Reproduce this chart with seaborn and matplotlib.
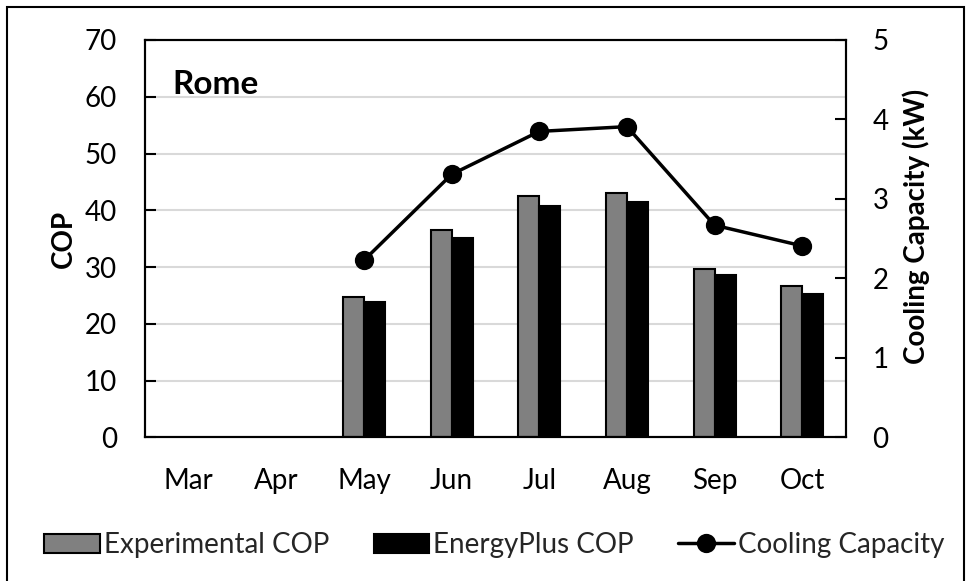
import pandas as pd
import seaborn as sns
import matplotlib.pyplot as plt
from matplotlib.patches import Rectangle


MONTHS = ["Mar", "Apr", "May", "Jun", "Jul", "Aug", "Sep", "Oct"]
DATA_MONTHS = ["May", "Jun", "Jul", "Aug", "Sep", "Oct"]
EXPERIMENTAL_COP = [24.7, 36.5, 42.5, 43.1, 29.6, 26.7]
ENERGYPLUS_COP = [23.9, 35.2, 40.8, 41.5, 28.6, 25.3]
COOLING_CAPACITY = [2.23, 3.31, 3.85, 3.91, 2.67, 2.41]
COP_TICKS = [0, 10, 20, 30, 40, 50, 60, 70]
KW_TICKS = [0, 1, 2, 3, 4, 5]


def build_frames():
    bars = pd.DataFrame({
        "month": DATA_MONTHS * 2,
        "COP": EXPERIMENTAL_COP + ENERGYPLUS_COP,
        "series": ["Experimental COP"] * len(DATA_MONTHS) + ["EnergyPlus COP"] * len(DATA_MONTHS),
    })
    line = pd.DataFrame({"month": DATA_MONTHS, "capacity": COOLING_CAPACITY})
    return bars, line


def main():
    sns.set_theme(style="white")
    plt.rcParams["font.family"] = ["Lato", "DejaVu Sans"]

    bars, line = build_frames()

    fig = plt.figure(figsize=(9.71, 5.81), dpi=100)
    ax = fig.add_axes([0.1493, 0.2470, 0.7220, 0.6842])

    sns.barplot(
        data=bars, x="month", y="COP", hue="series", order=MONTHS,
        hue_order=["Experimental COP", "EnergyPlus COP"],
        palette=["#808080", "#000000"], width=0.48,
        edgecolor="black", linewidth=1.5, ax=ax,
    )
    handles, labels = ax.get_legend_handles_labels()
    if ax.get_legend() is not None:
        ax.get_legend().remove()

    ax2 = ax.twinx()
    sns.pointplot(
        data=line, x="month", y="capacity", order=MONTHS, color="black",
        markers="o", markersize=12, linewidth=2.5, errorbar=None, ax=ax2,
        label="Cooling Capacity",
    )
    h2, l2 = ax2.get_legend_handles_labels()
    if ax2.get_legend() is not None:
        ax2.get_legend().remove()

    ax.set_xlim(-0.5, 7.5)
    ax.set_ylim(0, 70)
    ax.set_yticks(COP_TICKS)
    ax2.set_ylim(0, 5)
    ax2.set_yticks(KW_TICKS)

    ax.set_axisbelow(True)
    ax.yaxis.grid(True, color="#d9d9d9", linewidth=1.5)
    ax.xaxis.grid(False)

    for a in (ax, ax2):
        for spine in a.spines.values():
            spine.set_color("black")
            spine.set_linewidth(1.5)
            spine.set_visible(True)

    ax.tick_params(axis="y", direction="in", length=8, width=1.5, pad=20,
                   labelsize=20, colors="black", left=True)
    ax.tick_params(axis="x", length=0, pad=22, labelsize=20, colors="black")
    ax2.tick_params(axis="y", direction="in", length=8, width=1.5, pad=19,
                    labelsize=20, colors="black", right=True)

    ax.set_xlabel("")
    ax.set_ylabel("COP", fontsize=20, fontweight="bold", color="black")
    ax.yaxis.set_label_coords(-0.097, 0.5)
    ax2.set_xlabel("")
    ax2.set_ylabel("Cooling Capacity (kW)", fontsize=20, fontweight="bold", color="black")
    ax2.yaxis.set_label_coords(1.081, 0.53)

    ax.text(0.0385, 0.864, "Rome", transform=ax.transAxes, fontsize=24,
            fontweight="bold", va="baseline", ha="left", color="black")

    fig.legend(
        handles + h2, labels + l2, loc="center", bbox_to_anchor=(0.509, 0.062),
        ncol=3, frameon=False, fontsize=20, handlelength=2.0,
        handletextpad=0.15, columnspacing=1.6,
    )

    fig.add_artist(Rectangle((0.0077, -0.01), 0.9856, 0.9971, transform=fig.transFigure,
                             fill=False, edgecolor="black", linewidth=1.5))

    fig.savefig("out.png", dpi=100)
    plt.close(fig)


if __name__ == "__main__":
    main()
